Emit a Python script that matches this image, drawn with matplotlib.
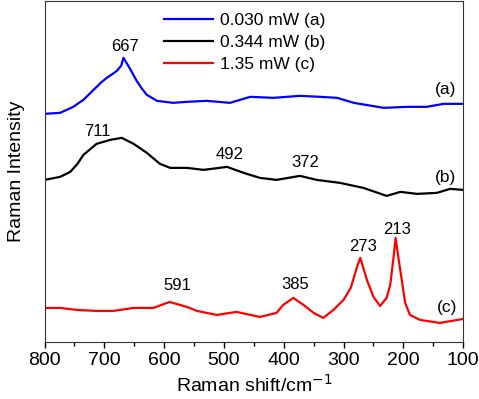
import matplotlib.pyplot as plt
from matplotlib.ticker import MultipleLocator

plt.rcParams['font.family'] = ['Liberation Sans', 'DejaVu Sans']

# spectra (Raman shift, intensity in arbitrary units)
shift_a = [800, 774, 752, 735, 718, 706, 696, 686, 679, 672, 668, 663, 657, 646,
           637, 629, 612, 585, 562, 529, 490, 456, 417, 373, 339, 311, 283, 233,
           194, 161, 133, 100]
int_a = [228, 229, 235, 242, 252, 259, 264, 268, 271, 276, 284, 279, 273, 261,
         253, 247, 241, 239, 240, 241, 239, 245, 244, 246, 245, 244, 239, 234,
         235, 235, 238, 238]

shift_b = [800, 774, 757, 745, 735, 713, 690, 671, 651, 629, 607, 590, 562, 534,
           495, 467, 440, 412, 373, 345, 306, 267, 228, 205, 177, 144, 122, 100]
int_b = [162, 165, 170, 178, 187, 198, 202, 204, 198, 189, 178, 174, 174, 172,
         175, 169, 164, 162, 166, 162, 159, 154, 146, 150, 148, 149, 153, 152]

shift_c = [800, 774, 746, 713, 685, 651, 618, 591, 562, 545, 512, 479, 440, 412,
           401, 384, 367, 350, 334, 317, 300, 288, 283, 277, 272, 267, 261, 250,
           239, 228, 222, 216, 213, 209, 204, 197, 189, 172, 139, 100]
int_c = [34, 34, 32, 31, 31, 34, 34, 40, 35, 31, 27, 30, 25, 29,
         37, 44, 37, 29, 24, 32, 42, 54, 64, 76, 84, 74, 62, 45,
         36, 44, 57, 87, 104, 87, 67, 39, 27, 22, 19, 23]

labels = ['0.030 mW (a)', '0.344 mW (b)', '1.35 mW (c)']
colors = ['#0000ff', '#000000', '#ff0000']

peaks = ['667', '711', '492', '372', '591', '385', '273', '213']
peak_x = [665, 712, 490, 364, 578, 381, 268, 210]
peak_y = [295, 210, 187, 179, 56, 57, 95, 112]

fig = plt.figure(figsize=(4.79, 3.99), dpi=100)
ax = fig.add_axes([0.093, 0.143, 0.874, 0.855])

ax.plot(shift_a, int_a, color=colors[0], lw=1.6, label=labels[0])
ax.plot(shift_b, int_b, color=colors[1], lw=1.6, label=labels[1])
ax.plot(shift_c, int_c, color=colors[2], lw=1.6, label=labels[2])

for t, x, y in zip(peaks, peak_x, peak_y):
    ax.text(x, y, t, ha='center', va='center', fontsize=12)

ax.text(130, 252, '(a)', ha='center', va='center', fontsize=12.5)
ax.text(130, 164, '(b)', ha='center', va='center', fontsize=12.5)
ax.text(127, 34, '(c)', ha='center', va='center', fontsize=12.5)

ax.set_xlim(800, 100)
ax.set_ylim(0, 341)
ax.set_yticks([])
ax.xaxis.set_major_locator(MultipleLocator(100))
ax.xaxis.set_minor_locator(MultipleLocator(50))
ax.tick_params(axis='x', which='major', length=4, width=1, labelsize=14, pad=3)
ax.tick_params(axis='x', which='minor', length=3, width=1)
for s in ax.spines.values():
    s.set_color('#333333')

ax.set_xlabel('Raman shift/cm$^{-1}$', fontsize=14, labelpad=4)
ax.set_ylabel('Raman Intensity', fontsize=14, labelpad=14)

ax.legend(loc='upper center', bbox_to_anchor=(0.478, 1.01), frameon=False,
          fontsize=12.5, handlelength=2.8, handletextpad=0.4, labelspacing=0.38)

fig.savefig('out.png', dpi=100)
